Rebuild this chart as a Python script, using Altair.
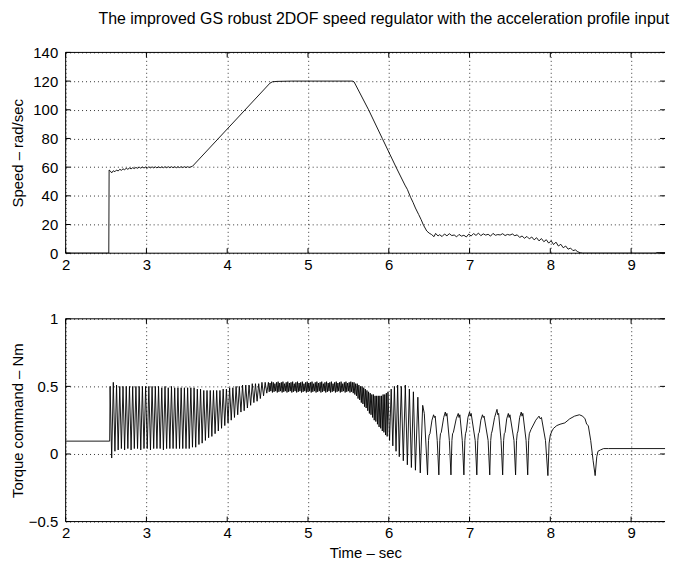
import altair as alt
import pandas as pd

FONT = "Liberation Sans"

title_text = "The improved GS robust 2DOF speed regulator with the acceleration profile input"
x_title = "Time – sec"
speed_title = "Speed – rad/sec"
torque_title = "Torque command – Nm"

x_ticks = [2, 3, 4, 5, 6, 7, 8, 9]
speed_ticks = [0, 20, 40, 60, 80, 100, 120, 140]
torque_ticks = [-0.5, 0, 0.5, 1]

# ---------------- speed (rad/sec) ----------------
speed_t = [
    2.00, 2.534, 2.538,
    2.55, 2.57, 2.59, 2.61, 2.63, 2.65, 2.67, 2.69, 2.71, 2.73,
    2.75, 2.77, 2.79, 2.81, 2.83, 2.85, 2.87, 2.89, 2.91, 2.93,
    2.95, 2.97, 2.99, 3.01, 3.03, 3.05, 3.07, 3.09, 3.11, 3.13,
    3.15, 3.17, 3.19, 3.21, 3.23, 3.25, 3.27, 3.29, 3.31, 3.33,
    3.35, 3.37, 3.39, 3.41, 3.43, 3.45, 3.47, 3.49, 3.51, 3.53,
    3.55, 3.57, 4.53, 4.56, 4.62, 4.80, 5.55,
    5.57, 5.75, 5.92, 6.09, 6.20, 6.23, 6.27, 6.30, 6.33, 6.37,
    6.40, 6.43, 6.47, 6.50, 6.53,
    6.56, 6.58, 6.61, 6.63, 6.66, 6.69, 6.72, 6.75, 6.78, 6.81,
    6.84, 6.87, 6.90, 6.93, 6.96, 6.99, 7.02, 7.05, 7.08, 7.11,
    7.14, 7.17, 7.20, 7.23, 7.26, 7.29, 7.32, 7.35, 7.38, 7.41,
    7.44, 7.47, 7.50, 7.53, 7.56, 7.59, 7.62, 7.65, 7.68, 7.71,
    7.74, 7.77, 7.80, 7.83, 7.86, 7.89, 7.92, 7.95, 7.98, 8.01,
    8.04, 8.07, 8.10, 8.13, 8.16, 8.19, 8.22, 8.25, 8.28, 8.31,
    8.34, 8.37, 8.40, 9.30, 9.32, 9.45, 9.50,
]
speed_v = [
    0.0, 0.0, 58.0,
    57.5, 56.0, 57.5, 56.8, 58.0, 57.3, 58.5, 57.8, 58.8, 58.2,
    59.2, 58.5, 59.4, 58.8, 59.6, 59.0, 59.8, 59.2, 60.0, 59.3,
    60.1, 59.4, 60.1, 59.4, 60.2, 59.5, 60.2, 59.5, 60.2, 59.5,
    60.2, 59.6, 60.2, 59.6, 60.3, 59.6, 60.3, 59.6, 60.3, 59.6,
    60.3, 59.6, 60.3, 59.7, 60.3, 59.7, 60.3, 59.7, 60.3, 59.8,
    60.2, 60.6, 118.6, 119.5, 119.8, 120.0, 120.0,
    119.5, 100.0, 80.0, 60.0, 47.5, 44.5, 39.0, 35.5, 31.5, 27.0,
    23.5, 19.5, 15.5, 14.0, 13.0,
    11.5, 13.8, 12.0, 12.9, 11.6, 13.4, 12.1, 13.6, 12.3, 12.7,
    11.4, 13.1, 11.9, 12.5, 11.3, 13.3, 12.0, 13.7, 12.4, 14.0,
    12.2, 13.5, 12.6, 13.2, 11.9, 13.8, 12.5, 13.0, 12.7, 13.6,
    12.3, 13.1, 12.6, 13.4, 12.2, 12.8, 11.0, 12.0, 10.4, 11.7,
    10.0, 11.3, 9.3, 10.8, 8.6, 10.2, 8.0, 9.4, 7.0, 8.7,
    6.0, 7.7, 5.0, 6.2, 3.8, 5.0, 2.8, 3.6, 1.8, 2.3,
    1.0, 0.3, 0.0, 0.0, 0.4, 0.4, 0.2,
]

# ---------------- torque command (Nm) ----------------
torque_t = [
    2.00, 2.545,
    # constant low-speed stage
    2.55, 2.57, 2.59, 2.61, 2.63, 2.65, 2.67, 2.69, 2.71, 2.73,
    2.75, 2.77, 2.79, 2.81, 2.83, 2.85, 2.87, 2.89, 2.91, 2.93,
    2.95, 2.97, 2.99, 3.01, 3.03, 3.05, 3.07, 3.09, 3.11, 3.13,
    3.15, 3.17, 3.19, 3.21, 3.23, 3.25, 3.27, 3.29, 3.31, 3.33,
    3.35, 3.37, 3.39, 3.41, 3.43, 3.45, 3.47, 3.49, 3.51, 3.53,
    3.55, 3.57, 3.59,
    # acceleration stage
    3.61, 3.63, 3.65, 3.67, 3.69, 3.71, 3.73, 3.75, 3.77, 3.79,
    3.81, 3.83, 3.85, 3.87, 3.89, 3.91, 3.93, 3.95, 3.97, 3.99,
    4.01, 4.03, 4.05, 4.07, 4.09, 4.11, 4.13, 4.15, 4.17, 4.19,
    4.21, 4.23, 4.25, 4.27, 4.29, 4.31, 4.33, 4.35, 4.37, 4.39,
    4.41, 4.43, 4.45, 4.47, 4.49,
    # top-speed stage
    4.51, 4.52, 4.53, 4.54, 4.55, 4.56, 4.57, 4.58, 4.59, 4.60,
    4.61, 4.62, 4.63, 4.64, 4.65, 4.66, 4.67, 4.68, 4.69, 4.70,
    4.71, 4.72, 4.73, 4.74, 4.75, 4.76, 4.77, 4.78, 4.79, 4.80,
    4.81, 4.82, 4.83, 4.84, 4.85, 4.86, 4.87, 4.88, 4.89, 4.90,
    4.91, 4.92, 4.93, 4.94, 4.95, 4.96, 4.97, 4.98, 4.99, 5.00,
    5.01, 5.02, 5.03, 5.04, 5.05, 5.06, 5.07, 5.08, 5.09, 5.10,
    5.11, 5.12, 5.13, 5.14, 5.15, 5.16, 5.17, 5.18, 5.19, 5.20,
    5.21, 5.22, 5.23, 5.24, 5.25, 5.26, 5.27, 5.28, 5.29, 5.30,
    5.31, 5.32, 5.33, 5.34, 5.35, 5.36, 5.37, 5.38, 5.39, 5.40,
    5.41, 5.42, 5.43, 5.44, 5.45, 5.46, 5.47, 5.48, 5.49, 5.50,
    5.51, 5.52, 5.53, 5.54, 5.55,
    # deceleration stage
    5.56, 5.57, 5.58, 5.59, 5.60, 5.61, 5.62, 5.63, 5.64, 5.65,
    5.66, 5.67, 5.68, 5.69, 5.70, 5.71, 5.72, 5.73, 5.74, 5.75,
    5.76, 5.77, 5.78, 5.79, 5.80, 5.81, 5.82, 5.83, 5.84, 5.85,
    5.86, 5.87, 5.88, 5.89, 5.90, 5.91, 5.92, 5.93, 5.94, 5.95,
    5.96, 5.97, 5.98, 5.99,
    6.01, 6.03, 6.05, 6.07, 6.09, 6.11, 6.13, 6.155, 6.18, 6.205,
    6.23, 6.255, 6.28, 6.305, 6.33, 6.36, 6.39, 6.42, 6.44,
    # low-speed limit cycles
    6.48, 6.492, 6.50, 6.51, 6.535, 6.555, 6.565, 6.575, 6.60,
    6.62, 6.632, 6.64, 6.65, 6.68, 6.70, 6.71, 6.72, 6.75,
    6.77, 6.782, 6.79, 6.80, 6.835, 6.86, 6.87, 6.88, 6.91,
    6.93, 6.942, 6.95, 6.96, 6.98, 7.00, 7.01, 7.02, 7.07,
    7.09, 7.102, 7.11, 7.12, 7.14, 7.16, 7.17, 7.18, 7.23,
    7.25, 7.262, 7.27, 7.28, 7.31, 7.34, 7.35, 7.36, 7.39,
    7.41, 7.422, 7.43, 7.44, 7.46, 7.48, 7.49, 7.50, 7.55,
    7.57, 7.582, 7.59, 7.60, 7.62, 7.64, 7.65, 7.66, 7.70,
    7.72, 7.732, 7.74, 7.76, 7.82, 7.86, 7.875, 7.89, 7.94,
    7.97, 7.985, 8.00, 8.02, 8.04, 8.08, 8.12, 8.18, 8.24, 8.30,
    8.36, 8.40, 8.43, 8.45, 8.47, 8.50, 8.53,
    8.555, 8.575, 8.59, 8.62, 8.66, 8.72, 9.50,
]
torque_v = [
    0.095, 0.095,
    0.50, -0.03, 0.53, 0.02, 0.51, 0.03, 0.50, 0.04, 0.50, 0.03,
    0.50, 0.04, 0.50, 0.03, 0.50, 0.04, 0.50, 0.04, 0.50, 0.03,
    0.50, 0.04, 0.50, 0.04, 0.50, 0.03, 0.50, 0.04, 0.50, 0.04,
    0.50, 0.04, 0.49, 0.03, 0.50, 0.04, 0.49, 0.04, 0.50, 0.04,
    0.49, 0.04, 0.49, 0.04, 0.49, 0.04, 0.49, 0.04, 0.49, 0.04,
    0.49, 0.05, 0.49,
    0.05, 0.48, 0.07, 0.48, 0.08, 0.47, 0.10, 0.47, 0.12, 0.47,
    0.13, 0.47, 0.15, 0.47, 0.17, 0.47, 0.19, 0.48, 0.21, 0.48,
    0.23, 0.49, 0.25, 0.49, 0.27, 0.50, 0.29, 0.50, 0.31, 0.51,
    0.32, 0.51, 0.34, 0.51, 0.36, 0.52, 0.38, 0.52, 0.39, 0.52,
    0.41, 0.53, 0.43, 0.53, 0.45,
    0.53, 0.46, 0.525, 0.465, 0.535, 0.455, 0.53, 0.46, 0.52, 0.465,
    0.53, 0.455, 0.535, 0.46, 0.525, 0.465, 0.53, 0.455, 0.535, 0.46,
    0.52, 0.465, 0.53, 0.455, 0.535, 0.46, 0.525, 0.465, 0.53, 0.455,
    0.535, 0.46, 0.52, 0.465, 0.53, 0.455, 0.535, 0.46, 0.525, 0.465,
    0.53, 0.455, 0.535, 0.46, 0.52, 0.465, 0.53, 0.455, 0.535, 0.46,
    0.525, 0.465, 0.53, 0.455, 0.535, 0.46, 0.52, 0.465, 0.53, 0.455,
    0.535, 0.46, 0.525, 0.465, 0.53, 0.455, 0.535, 0.46, 0.52, 0.465,
    0.53, 0.455, 0.535, 0.46, 0.525, 0.465, 0.53, 0.455, 0.535, 0.46,
    0.52, 0.465, 0.53, 0.455, 0.535, 0.46, 0.525, 0.465, 0.53, 0.455,
    0.535, 0.46, 0.52, 0.465, 0.53, 0.455, 0.535, 0.46, 0.525, 0.465,
    0.53, 0.455, 0.535, 0.46, 0.53,
    0.45, 0.53, 0.44, 0.52, 0.43, 0.52, 0.41, 0.51, 0.40, 0.50,
    0.38, 0.50, 0.37, 0.49, 0.35, 0.48, 0.34, 0.47, 0.32, 0.46,
    0.30, 0.45, 0.29, 0.44, 0.27, 0.44, 0.25, 0.43, 0.24, 0.43,
    0.22, 0.43, 0.20, 0.43, 0.19, 0.43, 0.17, 0.44, 0.16, 0.44,
    0.14, 0.45, 0.13, 0.46,
    0.10, 0.48, 0.06, 0.50, 0.02, 0.51, -0.02, 0.50, -0.05, 0.51,
    -0.08, 0.48, -0.10, 0.46, -0.12, 0.42, -0.14, 0.36, 0.30,
    -0.155, 0.10, 0.14, 0.15, 0.25, 0.29, 0.27, 0.28, 0.10,
    -0.155, 0.10, 0.15, 0.16, 0.27, 0.31, 0.28, 0.30, 0.10,
    -0.155, 0.10, 0.15, 0.16, 0.26, 0.30, 0.27, 0.29, 0.10,
    -0.155, 0.10, 0.15, 0.17, 0.27, 0.31, 0.28, 0.30, 0.10,
    -0.155, 0.10, 0.15, 0.16, 0.25, 0.29, 0.27, 0.28, 0.10,
    -0.155, 0.10, 0.15, 0.17, 0.27, 0.33, 0.29, 0.30, 0.10,
    -0.155, 0.10, 0.15, 0.16, 0.26, 0.30, 0.27, 0.29, 0.10,
    -0.155, 0.10, 0.15, 0.17, 0.27, 0.31, 0.28, 0.30, 0.10,
    -0.155, 0.10, 0.15, 0.18, 0.25, 0.28, 0.26, 0.27, 0.10,
    -0.16, 0.08, 0.14, 0.17, 0.19, 0.21, 0.22, 0.23, 0.26, 0.28,
    0.29, 0.28, 0.26, 0.22, 0.21, 0.10, -0.05,
    -0.16, -0.02, 0.02, 0.03, 0.04, 0.04, 0.04,
]

W, H1, H2 = 603, 202, 204
TICK = 5

xscale = alt.Scale(domain=[2, 9.42], nice=False, zero=False)


def panel(t, v, yticks, ydomain, ytitle, h, xtitle, yfmt):
    yscale = alt.Scale(domain=ydomain, nice=False, zero=False)
    n = min(len(t), len(v))
    df = pd.DataFrame({"t": t[:n], "v": v[:n], "i": list(range(n))})

    xkw = dict(values=x_ticks, grid=True, labelPadding=4, format="d")
    if xtitle:
        xkw.update(title=xtitle, titleY=31.5, titleBaseline="middle")
    else:
        xkw.update(title="")
    xaxis = alt.Axis(**xkw)
    yaxis = alt.Axis(values=yticks, grid=True, labelPadding=8, format=yfmt,
                     title=ytitle, titleX=-48, titleY=h / 2, titleAngle=270,
                     titleAlign="center", titleBaseline="middle")

    line = alt.Chart(df).mark_line(color="black", strokeWidth=0.9, clip=True).encode(
        x=alt.X("t:Q", scale=xscale, axis=xaxis),
        y=alt.Y("v:Q", scale=yscale, axis=yaxis),
        order="i:Q",
    )

    one = pd.DataFrame({"a": [0]})
    border_top = alt.Chart(one).mark_rule(color="black", strokeWidth=1).encode(
        x=alt.value(0), x2=alt.value(W), y=alt.value(0))
    border_bottom = alt.Chart(one).mark_rule(color="black", strokeWidth=1).encode(
        x=alt.value(0), x2=alt.value(W), y=alt.value(h))
    border_left = alt.Chart(one).mark_rule(color="black", strokeWidth=1).encode(
        x=alt.value(0), y=alt.value(0), y2=alt.value(h))

    xt = pd.DataFrame({"t": x_ticks})
    yt = pd.DataFrame({"v": yticks})
    xt_top = alt.Chart(xt).mark_rule(color="black").encode(
        x=alt.X("t:Q", scale=xscale, axis=xaxis), y=alt.value(0), y2=alt.value(TICK))
    xt_bot = alt.Chart(xt).mark_rule(color="black").encode(
        x=alt.X("t:Q", scale=xscale, axis=xaxis), y=alt.value(h - TICK), y2=alt.value(h))
    yt_left = alt.Chart(yt).mark_rule(color="black").encode(
        y=alt.Y("v:Q", scale=yscale, axis=yaxis), x=alt.value(0), x2=alt.value(TICK))
    yt_right = alt.Chart(yt).mark_rule(color="black").encode(
        y=alt.Y("v:Q", scale=yscale, axis=yaxis), x=alt.value(W - TICK), x2=alt.value(W))

    return alt.layer(line, border_top, border_bottom, border_left,
                     xt_top, xt_bot, yt_left, yt_right).properties(width=W, height=h)


top = panel(speed_t, speed_v, speed_ticks, [0, 140], speed_title, H1, None, "d").properties(
    title=alt.TitleParams(title_text, anchor="start", dx=88, fontSize=16, font=FONT,
                          fontWeight="normal", color="black", offset=19)
)
bottom = panel(torque_t, torque_v, torque_ticks, [-0.5, 1], torque_title, H2, x_title, "~g")

chart = alt.vconcat(top, bottom, spacing=66, bounds="flush").properties(
    padding={"left": 3, "top": 1, "right": 0, "bottom": 0},
    background="white",
).configure_view(stroke=None).configure_axis(
    labelFont=FONT, titleFont=FONT, labelFontSize=15, titleFontSize=15,
    titleFontWeight="normal", labelColor="black", titleColor="black",
    domain=False, ticks=False, gridColor="black", gridDash=[1, 3],
    gridOpacity=1, gridWidth=0.8, labelFlush=False, labelOverlap=False,
)

chart.save("out.html", embed_options={"renderer": "svg", "actions": False})
